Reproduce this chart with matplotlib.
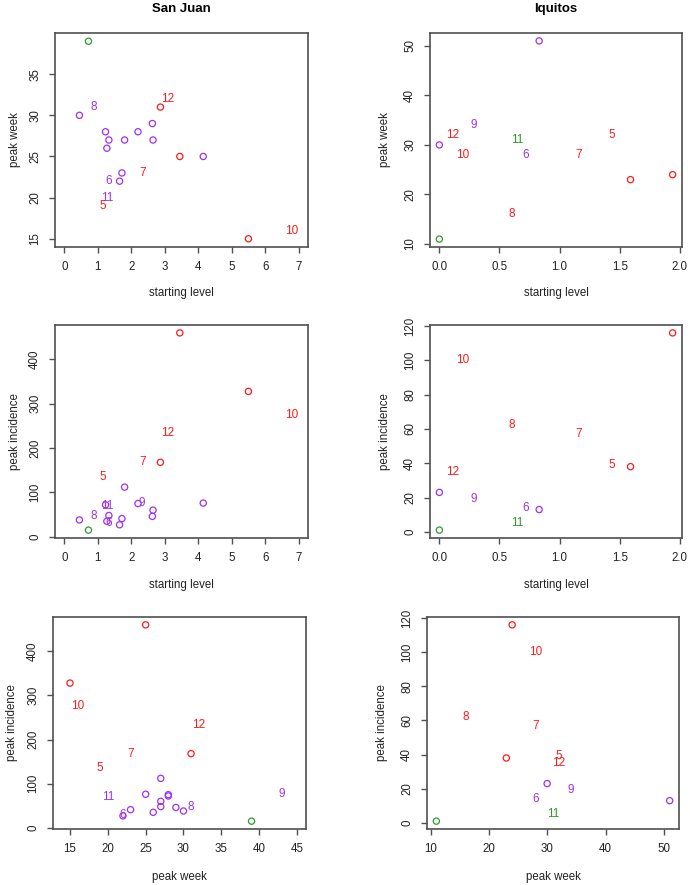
import matplotlib
matplotlib.use('Agg')
import matplotlib.pyplot as plt
import numpy as np

plt.rcParams['font.family'] = ['Liberation Sans', 'DejaVu Sans']

# San Juan seasons: starting level, peak week, peak incidence, group, label
sj_start = [0.72, 0.45, 1.23, 1.33, 1.27, 1.80, 2.20, 2.63, 2.65, 4.15, 1.72, 1.65,
            2.87, 3.45, 5.50, 0.87, 1.32, 1.27, 2.30, 1.15, 2.33, 3.08, 6.78]
sj_week = [39, 30, 28, 27, 26, 27, 28, 29, 27, 25, 23, 22,
           31, 25, 15, 31, 22, 20, 43, 19, 23, 32, 16]
sj_inc = [15, 38, 72, 48, 35, 112, 75, 46, 60, 76, 41, 27,
          168, 460, 328, 47, 30, 70, 76, 135, 168, 233, 275]
sj_group = ['g', 'p', 'p', 'p', 'p', 'p', 'p', 'p', 'p', 'p', 'p', 'p',
            'r', 'r', 'r', 'p', 'p', 'p', 'p', 'r', 'r', 'r', 'r']
sj_label = ['', '', '', '', '', '', '', '', '', '', '', '',
            '', '', '', '8', '6', '11', '9', '5', '7', '12', '10']

# Iquitos seasons
iq_start = [0.83, 0.00, 0.00, 1.59, 1.94, 0.11, 0.19, 0.29, 0.65, 0.72, 0.60, 1.16, 1.43]
iq_week = [51, 30, 11, 23, 24, 32, 28, 34, 31, 28, 16, 28, 32]
iq_inc = [13, 23, 1, 38, 116, 35, 100, 19, 5, 14, 62, 57, 39]
iq_group = ['p', 'p', 'g', 'r', 'r', 'r', 'r', 'p', 'g', 'p', 'r', 'r', 'r']
iq_label = ['', '', '', '', '', '12', '10', '9', '11', '6', '8', '7', '5']

colors = {'r': '#FF1A1A', 'p': '#A030F0', 'g': '#2E9B2E'}
frame_col = '#505050'


def scatter_panel(ax, x, y, group, label, xlim, ylim, xticks, yticks,
                  xlab, ylab, xfmt=None, xl_y=-0.215, yl_x=-0.16):
    for xi, yi, g, lb in zip(x, y, group, label):
        if lb == '':
            ax.scatter(xi, yi, s=20, facecolors='none', edgecolors=colors[g],
                       linewidths=0.9, zorder=3)
        else:
            ax.text(xi, yi, lb, color=colors[g], fontsize=8.5, ha='center',
                    va='center', clip_on=True, zorder=3)
    ax.set_xlim(xlim)
    ax.set_ylim(ylim)
    ax.set_xticks(xticks)
    if xfmt is not None:
        ax.set_xticklabels([xfmt % t for t in xticks])
    ax.set_yticks(yticks)
    ax.set_yticklabels([str(t) for t in yticks], rotation=90, va='center')
    ax.tick_params(direction='out', length=4, width=1.0, pad=6, labelsize=8.3,
                   color=frame_col, labelcolor='#222222')
    for sp in ax.spines.values():
        sp.set_color(frame_col)
        sp.set_linewidth(1.2)
    ax.text(0.5, xl_y, xlab, transform=ax.transAxes, ha='center', va='center',
            fontsize=8.3, color='#222222')
    ax.text(yl_x, 0.5, ylab, transform=ax.transAxes, ha='center', va='center',
            rotation=90, fontsize=8.3, color='#222222')


W, H = 690, 885
fig = plt.figure(figsize=(W / 100, H / 100), dpi=100)


def add_ax(x0, y0, x1, y1):
    return fig.add_axes([x0 / W, 1 - y1 / H, (x1 - x0) / W, (y1 - y0) / H])


ax1 = add_ax(55, 33, 308, 247)
ax2 = add_ax(430, 33, 682, 247)
ax3 = add_ax(55, 325, 308, 538)
ax4 = add_ax(430, 325, 682, 538)
ax5 = add_ax(53, 617, 306, 829)
ax6 = add_ax(427, 617, 679, 829)

sj_xlim = (-0.28, 7.28)
sj_ilim = (-2.8, 477.8)
iq_xlim = (-0.078, 2.018)
iq_ilim = (-3.6, 120.6)

scatter_panel(ax1, sj_start, sj_week, sj_group, sj_label, sj_xlim, (14.0, 40.0),
              range(0, 8), [15, 20, 25, 30, 35], 'starting level', 'peak week')
scatter_panel(ax2, iq_start, iq_week, iq_group, iq_label, iq_xlim, (9.4, 52.6),
              [0, 0.5, 1.0, 1.5, 2.0], [10, 20, 30, 40, 50], 'starting level',
              'peak week', xfmt='%.1f', yl_x=-0.179)
scatter_panel(ax3, sj_start, sj_inc, sj_group, sj_label, sj_xlim, sj_ilim,
              range(0, 8), [0, 100, 200, 300, 400], 'starting level',
              'peak incidence', xl_y=-0.22)
scatter_panel(ax4, iq_start, iq_inc, iq_group, iq_label, iq_xlim, iq_ilim,
              [0, 0.5, 1.0, 1.5, 2.0], [0, 20, 40, 60, 80, 100, 120],
              'starting level', 'peak incidence', xfmt='%.1f', xl_y=-0.22, yl_x=-0.179)
scatter_panel(ax5, sj_week, sj_inc, sj_group, sj_label, (12.75, 46.2), sj_ilim,
              [15, 20, 25, 30, 35, 40, 45], [0, 100, 200, 300, 400], 'peak week',
              'peak incidence', xl_y=-0.225, yl_x=-0.162)
scatter_panel(ax6, iq_week, iq_inc, iq_group, iq_label, (9.4, 52.6), iq_ilim,
              [10, 20, 30, 40, 50], [0, 20, 40, 60, 80, 100, 120], 'peak week',
              'peak incidence', xl_y=-0.225, yl_x=-0.179)

fig.text(181.5 / W, 1 - 9 / H, 'San Juan', ha='center', va='center',
         fontsize=9.5, fontweight='bold')
fig.text(556 / W, 1 - 9 / H, 'Iquitos', ha='center', va='center',
         fontsize=9.5, fontweight='bold')

fig.savefig('out.png', dpi=100)
